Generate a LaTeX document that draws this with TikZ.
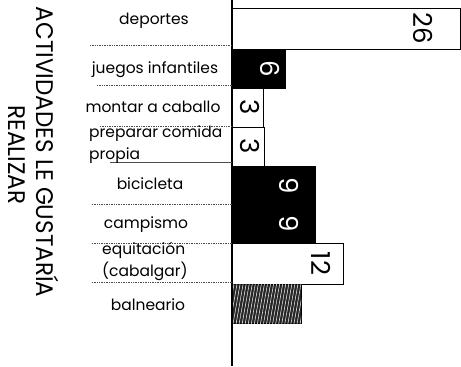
\documentclass[tikz,border=0pt]{standalone}
\usepackage{fontspec}
\setmainfont{Poppins}
\usetikzlibrary{patterns.meta}
\begin{document}
\begin{tikzpicture}[x=1pt,y=-1pt,
  bar/.style={draw=black, line width=0.8pt, anchor=north west, inner sep=0pt, outer sep=0pt},
  whitebar/.style={bar, fill=white},
  blackbar/.style={bar, fill=black},
  cat/.style={font=\fontsize{15.5}{24}\selectfont, inner sep=0pt},
  val/.style={font=\fontsize{26}{26}\selectfont, rotate=-90, inner sep=0pt},
  sep/.style={densely dotted, line width=0.7pt, black!70},
  ttl/.style={font=\fontsize{24}{24}\selectfont, rotate=-90, inner sep=0pt},
]
\useasboundingbox (0,0) rectangle (461,367);
% axis
\coordinate (axtop) at (232,0);
\coordinate (axbot) at (232,366);
% bars
\node[whitebar, minimum width=228, minimum height=41] (b1) at (232,8) {};
\node[blackbar, minimum width=53, minimum height=39] (b2) at (232,49) {};
\node[whitebar, minimum width=31, minimum height=39] (b3) at (232,88) {};
\node[whitebar, minimum width=32, minimum height=39] (b4) at (232,127) {};
\node[blackbar, minimum width=83, minimum height=39] (b5) at (232,166) {};
\node[blackbar, minimum width=83, minimum height=38] (b6) at (232,205) {};
\node[whitebar, minimum width=111, minimum height=41] (b7) at (232,243) {};
\node[bar, fill=black!85, minimum width=69, minimum height=39,
  postaction={pattern={Lines[angle=80,distance=3pt,line width=0.5pt]}, pattern color=white}] (b8) at (232,284) {};
% values
\node[val] (v1) at ([xshift=-37pt]b1.east) {26};
\node[val, text=white] (v2) at ([xshift=-15pt]b2.east) {6};
\node[val] (v3) at ([xshift=-13pt]b3.east) {3};
\node[val] (v4) at ([xshift=-14pt]b4.east) {3};
\node[val, text=white] (v5) at ([xshift=-26pt]b5.east) {9};
\node[val, text=white] (v6) at ([xshift=-26pt]b6.east) {9};
\node[val] (v7) at ([xshift=-22pt]b7.east) {12};
% axis line
\draw[line width=2pt] (axtop) -- (axbot);
% separators
\foreach \y/\x in {45/90, 85/97, 126/100, 204/92, 243/92, 282/92} {
  \draw[sep] (\x,\y) -- (232,\y);
}
\draw[line width=0.7pt, black!70] (110,162) -- (232,162);
% category labels
\node[cat] (c1) at (154,21) {deportes};
\node[cat] (c2) at (155,70) {juegos infantiles};
\node[cat] (c3) at (153,107) {montar a caballo};
\node[cat, anchor=west] (c4a) at (89,134) {preparar comida};
\node[cat, anchor=west] (c4b) at (89,156) {propia};
\node[cat] (c5) at (150,184) {bicicleta};
\node[cat] (c6) at (146,225) {campismo};
\node[cat, anchor=west] (c7a) at (102,250) {equitación};
\node[cat, anchor=west] (c7b) at (102,271) {(cabalgar)};
\node[cat] (c8) at (148,305) {balneario};
% titles
\node[ttl] (t1) at (48,152) {\scalebox{0.96}[1]{ACTIVIDADES LE GUSTARÍA}};
\node[ttl] (t2) at (17,155) {\scalebox{0.96}[1]{REALIZAR}};
\end{tikzpicture}
\end{document}
